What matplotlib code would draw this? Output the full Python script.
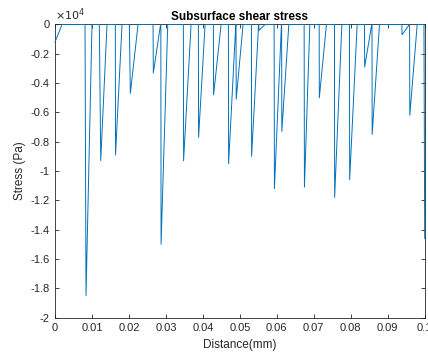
import numpy as np
import matplotlib
matplotlib.use("Agg")
import matplotlib.pyplot as plt

plt.rcParams['font.family'] = ['Liberation Sans', 'DejaVu Sans']

# 開始点 (x=0 の値と 0 に戻る位置)
start_value = -1200.0
start_end = 0.00189

# 各スパイク: 下降開始, 最小点の位置, 最小値 [Pa], 0 に戻る位置
spike_drop = [0.00812, 0.01199, 0.01632, 0.02011, 0.02652, 0.02863, 0.03472, 0.03878,
              0.04284, 0.04690, 0.04896, 0.05313, 0.05513, 0.05927, 0.06130, 0.06739,
              0.07145, 0.07559, 0.07965, 0.08371, 0.08574, 0.09383, 0.09591]
spike_min_x = [0.00839, 0.01237, 0.01637, 0.02038, 0.02660, 0.02869, 0.03478, 0.03884,
               0.04290, 0.04696, 0.04901, 0.05318, 0.05516, 0.05935, 0.06135, 0.06747,
               0.07150, 0.07564, 0.07970, 0.08376, 0.08579, 0.09386, 0.09597]
spike_min_y = [-18500, -9300, -8900, -4700, -3300, -15000, -9300, -7700,
               -4800, -9500, -5100, -9000, -400, -11200, -7300, -11100,
               -5000, -11800, -10600, -2900, -7500, -700, -6200]
spike_end = [0.01001, 0.01407, 0.01813, 0.02246, 0.02855, 0.03050, 0.03681, 0.04060,
             0.04493, 0.04890, 0.05088, 0.05507, 0.05683, 0.06125, 0.06325, 0.06893,
             0.07342, 0.07759, 0.08173, 0.08566, 0.08777, 0.09586, 0.09797]

# 最後の急降下
final_drop = 0.0998
final_x = 0.1
final_value = -14600

# 折れ線を組み立てる
xs = [0.0, start_end]
ys = [start_value, 0.0]
for d, mx, my, e in zip(spike_drop, spike_min_x, spike_min_y, spike_end):
    xs += [d, mx, e]
    ys += [0.0, my, 0.0]
xs += [final_drop, final_x]
ys += [0.0, final_value]

fig = plt.figure(figsize=(4.28, 3.56), dpi=100)
ax = fig.add_axes([0.1285, 0.1081, 0.8638, 0.8231])

ax.plot(xs, ys, color='#0072BD', linewidth=0.7, clip_on=False, zorder=3)

ax.set_xlim(0, 0.1)
ax.set_ylim(-20000, 0)

xticks = np.arange(0, 0.1001, 0.01)
ax.set_xticks(xticks)
ax.set_xticklabels(['%g' % round(v, 2) for v in xticks])
yticks = np.arange(-20000, 1, 2000)
ax.set_yticks(yticks)
ax.set_yticklabels(['%g' % round(v / 1e4, 1) for v in yticks])

gray = '#262626'
for s in ax.spines.values():
    s.set_color(gray)
    s.set_linewidth(0.6)
ax.tick_params(direction='in', length=3, width=0.6, colors=gray,
               labelsize=8, top=True, right=True, pad=4)

ax.text(0.0, 1.005, r'$\times10^4$', transform=ax.transAxes, fontsize=8,
        color=gray, ha='left', va='bottom')

ax.set_title('Subsurface shear stress', fontsize=8.5, fontweight='bold', pad=3)
ax.set_xlabel('Distance(mm)', fontsize=8.5, color=gray, labelpad=4)
ax.set_ylabel('Stress (Pa)', fontsize=8.5, color=gray, labelpad=3)

fig.savefig('out.png', dpi=100)
